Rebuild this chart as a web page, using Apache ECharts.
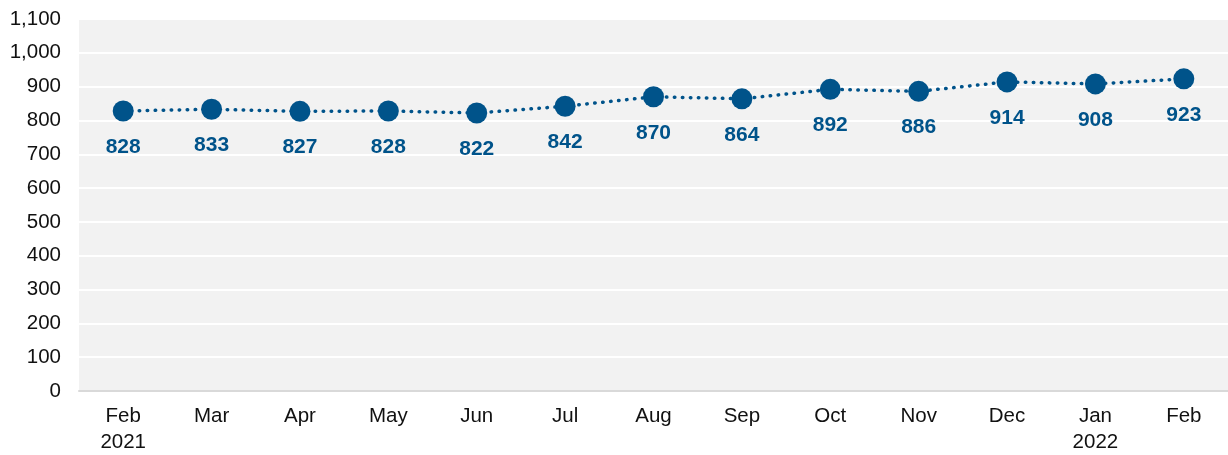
<!DOCTYPE html>
<html>
<head>
<meta charset="utf-8">
<script src="https://cdn.jsdelivr.net/npm/echarts@6/dist/echarts.min.js"></script>
<style>
  html, body { margin: 0; padding: 0; background: #fff; }
  #chart { width: 1228px; height: 455px; }
</style>
</head>
<body>
<div id="chart"></div>
<script>
const months = ['Feb\n2021', 'Mar', 'Apr', 'May', 'Jun', 'Jul', 'Aug', 'Sep', 'Oct', 'Nov', 'Dec', 'Jan\n2022', 'Feb']
const values = [828, 833, 827, 828, 822, 842, 870, 864, 892, 886, 914, 908, 923]

const blue = '#00538a'
const font = '"Liberation Sans", Arial, sans-serif'

const chart = echarts.init(document.getElementById('chart'))

chart.setOption({
  animation: false,
  grid: {
    left: 79, right: 0, top: 19, bottom: 64,
    show: true, backgroundColor: '#f2f2f2', borderWidth: 0,
  },
  xAxis: {
    type: 'category',
    data: months,
    boundaryGap: true,
    axisLine: { show: true, lineStyle: { color: '#d9d9d9', width: 2 } },
    axisTick: { show: false },
    axisLabel: { color: '#111', fontSize: 20.5, fontFamily: font, margin: 12, lineHeight: 26, interval: 0 },
  },
  yAxis: {
    type: 'value',
    min: 0, max: 1100, interval: 100,
    axisLine: { show: false },
    axisTick: { show: false },
    axisLabel: {
      color: '#111', fontSize: 20.5, fontFamily: font, margin: 18,
      formatter: v => v.toLocaleString('en-US'),
    },
    splitLine: { lineStyle: { color: '#ffffff', width: 2 } },
  },
  series: [{
    type: 'line',
    data: values,
    symbol: 'circle',
    symbolSize: 21,
    itemStyle: { color: blue },
    lineStyle: { color: blue, width: 3.5, type: [0.5, 7.5], cap: 'round' },
    label: {
      show: true, position: 'bottom', distance: 15,
      color: blue, fontSize: 21, fontWeight: 'bold', fontFamily: font,
    },
  }],
})
</script>
</body>
</html>
